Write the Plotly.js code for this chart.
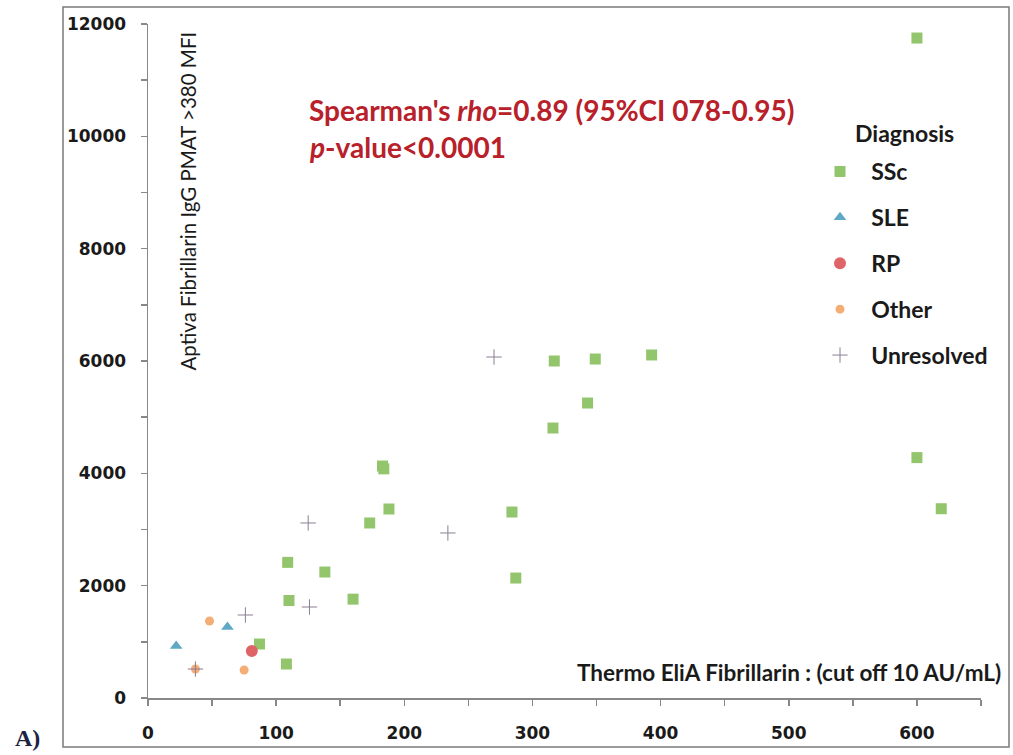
<!DOCTYPE html>
<html>
<head>
<meta charset="utf-8">
<script src="https://cdn.plot.ly/plotly-3.0.1.min.js"></script>
<style>html,body{margin:0;padding:0;background:#fff;}#chart{width:1013px;height:755px;}</style>
</head>
<body>
<div id="chart"></div>
<script>
// Data
var sscX = [600, 317, 349, 393, 343, 316, 183, 184, 188, 173, 284, 287, 109, 138, 110, 160, 600, 619, 87, 108];
var sscY = [11750, 6000, 6035, 6107, 5252, 4807, 4130, 4080, 3365, 3116, 3311, 2136, 2415, 2243, 1736, 1760, 4280, 3370, 961, 605];
var sleX = [22, 62];
var sleY = [926, 1264];
var rpX = [81];
var rpY = [837];
var otherX = [48, 75, 37];
var otherY = [1371, 499, 516];
var unresX = [270, 125, 234, 126, 76, 37];
var unresY = [6071, 3116, 2938, 1620, 1478, 516];

var seriesNames = ['SSc', 'SLE', 'RP', 'Other', 'Unresolved'];
var xTicks = [0, 100, 200, 300, 400, 500, 600];
var yTicks = [0, 2000, 4000, 6000, 8000, 10000, 12000];

var titleX = 'Thermo EliA Fibrillarin : (cut off 10 AU/mL)';
var titleY = 'Aptiva Fibrillarin IgG PMAT >380 MFI';
var statLine1 = "Spearman's <i>rho</i>=0.89 (95%CI 078-0.95)";
var statLine2 = '<i>p</i>-value<0.0001';
var legendTitle = 'Diagnosis';
var panelLabel = 'A)';

var pad = '\u00a0\u00a0';
var traces = [
  {x: sscX, y: sscY, name: pad + seriesNames[0], legendgroup: 'a', type: 'scatter', mode: 'markers',
   marker: {symbol: 'square', size: 11, color: '#93c56c'}},
  {x: sleX, y: sleY, name: pad + seriesNames[1], legendgroup: 'b', type: 'scatter', mode: 'markers',
   marker: {symbol: 'triangle-up', size: 11, color: '#5fa9c6'}},
  {x: rpX, y: rpY, name: pad + seriesNames[2], legendgroup: 'c', type: 'scatter', mode: 'markers',
   marker: {symbol: 'circle', size: 12, color: '#de6468'}},
  {x: otherX, y: otherY, name: pad + seriesNames[3], legendgroup: 'd', type: 'scatter', mode: 'markers',
   marker: {symbol: 'circle', size: 9, color: '#f4ad74'}},
  {x: unresX, y: unresY, name: pad + seriesNames[4], legendgroup: 'e', type: 'scatter', mode: 'markers',
   marker: {symbol: 'cross-thin', size: 11, color: '#8a7f96', line: {color: '#8a7f96', width: 1}}}
];

var tickFont = {family: 'DejaVu Sans', size: 17, color: '#1a1a1a', weight: 'bold'};
var plotL = 148, plotR = 32, plotT = 24, plotB = 57, W = 1013, H = 755;
var pw = W - plotL - plotR, ph = H - plotT - plotB;
function px(x) { return (x - plotL) / pw; }
function py(y) { return (H - plotB - y) / ph; }

var layout = {
  width: W, height: H,
  margin: {l: plotL, r: plotR, t: plotT, b: plotB, pad: 0},
  paper_bgcolor: '#ffffff', plot_bgcolor: '#ffffff',
  showlegend: true,
  legend: {x: px(820), y: py(150), xanchor: 'left', yanchor: 'top',
           font: {family: 'Lato', size: 23, color: '#1a1a1a', weight: 'bold'},
           bgcolor: 'rgba(0,0,0,0)', borderwidth: 0, itemwidth: 30, tracegroupgap: 13},
  xaxis: {range: [0, 650], tickvals: xTicks, ticktext: xTicks.map(String), ticks: 'outside', ticklen: 6,
          tickcolor: '#888', tickwidth: 1.5, showline: true, linecolor: '#888', linewidth: 1.5,
          showgrid: false, zeroline: false, tickfont: tickFont, ticklabelstandoff: 13,
          minor: {dtick: 50, tick0: 0, ticks: 'outside', ticklen: 6, tickcolor: '#888', tickwidth: 1.5, showgrid: false},
          fixedrange: true},
  yaxis: {range: [0, 12000], tickvals: yTicks, ticktext: yTicks.map(String), ticks: 'outside', ticklen: 6,
          tickcolor: '#888', tickwidth: 1.5, showline: true, linecolor: '#888', linewidth: 1.5,
          showgrid: false, zeroline: false, tickfont: tickFont, ticklabelstandoff: 11,
          minor: {dtick: 1000, tick0: 0, ticks: 'outside', ticklen: 6, tickcolor: '#888', tickwidth: 1.5, showgrid: false},
          fixedrange: true},
  shapes: [
    {type: 'rect', xref: 'paper', yref: 'paper', x0: px(63), x1: px(1009), y0: py(747), y1: py(7),
     line: {color: '#7a7a7a', width: 1.5}, fillcolor: 'rgba(0,0,0,0)', layer: 'below'}
  ],
  annotations: [
    {xref: 'paper', yref: 'paper', x: px(307), y: py(110), xanchor: 'left', yanchor: 'middle', showarrow: false,
     text: '<b>' + statLine1 + '</b>', font: {family: 'Lato', size: 28, color: '#b8202a'}},
    {xref: 'paper', yref: 'paper', x: px(307), y: py(147), xanchor: 'left', yanchor: 'middle', showarrow: false,
     text: '<b>' + statLine2 + '</b>', font: {family: 'Lato', size: 28, color: '#b8202a'}},
    {xref: 'paper', yref: 'paper', x: px(853), y: py(133), xanchor: 'left', yanchor: 'middle', showarrow: false,
     text: '<b>' + legendTitle + '</b>', font: {family: 'Lato', size: 23, color: '#1a1a1a'}},
    {xref: 'paper', yref: 'paper', x: px(1003), y: py(672), xanchor: 'right', yanchor: 'middle', showarrow: false,
     text: '<b>' + titleX + '</b>', font: {family: 'Lato', size: 22.5, color: '#1a1a1a'}},
    {xref: 'paper', yref: 'paper', x: px(188), y: py(30), xanchor: 'center', yanchor: 'top', showarrow: false,
     textangle: -90, text: titleY, font: {family: 'Lato', size: 20.5, color: '#1a1a1a'}},
    {xref: 'paper', yref: 'paper', x: px(13), y: py(738), xanchor: 'left', yanchor: 'middle', showarrow: false,
     text: '<b>' + panelLabel + '</b>', font: {family: 'Liberation Serif', size: 24, color: '#1c2340'}}
  ]
};

Plotly.newPlot('chart', traces, layout, {displayModeBar: false, staticPlot: true});
</script>
</body>
</html>
